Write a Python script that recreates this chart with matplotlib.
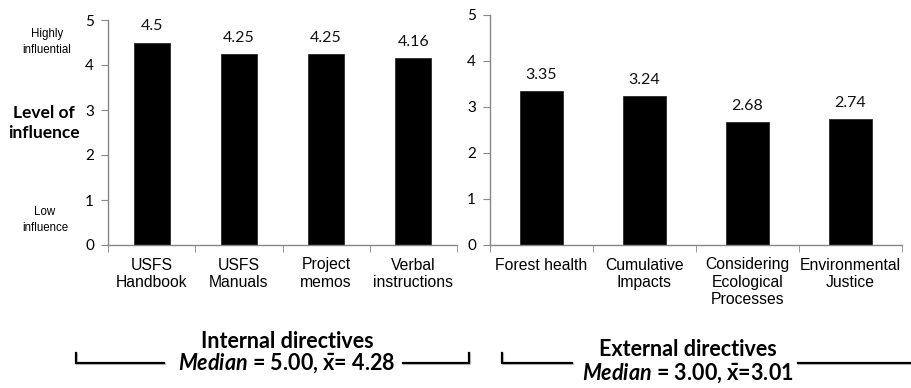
import matplotlib
matplotlib.use("Agg")
import matplotlib.pyplot as plt
from matplotlib.lines import Line2D
import matplotlib.patheffects as pe

plt.rcParams["mathtext.fontset"] = "custom"
plt.rcParams["mathtext.rm"] = "Lato:weight=bold"
plt.rcParams["mathtext.it"] = "Lato:weight=bold:style=italic"
plt.rcParams["mathtext.bf"] = "Lato:weight=bold"

# Data
internal_labels = ["USFS\nHandbook", "USFS\nManuals", "Project\nmemos", "Verbal\ninstructions"]
internal_values = [4.5, 4.25, 4.25, 4.16]
external_labels = ["Forest health", "Cumulative\nImpacts", "Considering\nEcological\nProcesses",
                   "Environmental\nJustice"]
external_values = [3.35, 3.24, 2.68, 2.74]
group_titles = ["Internal directives", "External directives"]
group_medians = [5.00, 3.00]
group_means = [4.28, 3.01]
y_ticks = [0, 1, 2, 3, 4, 5]

W, H = 911, 388
fig = plt.figure(figsize=(W / 100, H / 100), dpi=100)


def fx(x):
    return x / W


def fy(y):
    return 1 - y / H


SPINE = "#878787"


def bar_panel(rect, labels, values):
    ax = fig.add_axes(rect)
    xs = range(len(values))
    ax.bar(xs, values, width=0.41, color="black", edgecolor="#2a2a2a", linewidth=0.6)
    for x, v in zip(xs, values):
        ax.text(x, v + 0.2, f"{v:g}", ha="center", va="bottom",
                family="Lato", fontsize=11.5, color="#111111")
    ax.set_xlim(-0.5, len(values) - 0.5)
    ax.set_ylim(0, 5)
    ax.set_yticks(y_ticks)
    ax.set_xticks(list(xs))
    ax.set_xticklabels(labels, family="Liberation Sans", fontsize=11.3, linespacing=1.2)
    ax.set_xticks([i - 0.5 for i in range(len(values) + 1)], minor=True)
    ax.tick_params(axis="x", which="major", length=0, pad=9)
    ax.tick_params(axis="x", which="minor", length=5, direction="out", color=SPINE)
    ax.tick_params(axis="y", length=5, direction="out", color=SPINE, pad=5)
    for t in ax.get_yticklabels():
        t.set_family("Lato")
        t.set_fontsize(11)
    for s in ("top", "right"):
        ax.spines[s].set_visible(False)
    for s in ("left", "bottom"):
        ax.spines[s].set_color(SPINE)
        ax.spines[s].set_linewidth(1.0)
    return ax


ax1 = bar_panel([fx(108), fy(245), fx(457) - fx(108), (245 - 20) / H],
                internal_labels, internal_values)
ax2 = bar_panel([fx(490), fy(245), fx(902) - fx(490), (245 - 15) / H],
                external_labels, external_values)

# Y-axis descriptors for the left panel
fig.text(fx(47), fy(42), "Highly\ninfluential", ha="center", va="center",
         family="Liberation Sans", fontsize=8.3, linespacing=1.45)
fig.text(fx(44), fy(123), "Level of\ninfluence", ha="center", va="center",
         family="Lato", fontweight="bold", fontsize=12.5, linespacing=1.3)
fig.text(fx(45), fy(220), "Low\ninfluence", ha="center", va="center",
         family="Liberation Sans", fontsize=8.3, linespacing=1.45)

# Group brackets and summaries
shadow = [pe.SimpleLineShadow(offset=(0.8, -1.0), shadow_color="#888888", alpha=0.45),
          pe.Normal()]


def bracket_line(xs, ys):
    ln = Line2D([fx(x) for x in xs], [fy(y) for y in ys], transform=fig.transFigure,
                color="black", linewidth=1.6, solid_joinstyle="miter",
                path_effects=shadow)
    fig.add_artist(ln)


def summary(i, cx, ty, my):
    fig.text(fx(cx), fy(ty), group_titles[i], ha="center", va="center",
             family="Lato", fontweight="bold", fontsize=15.5)
    s = (r"$\it{Median}$" + f" = {group_medians[i]:.2f}, " + r"$\bar{\mathrm{x}}$"
         + ("= " if i == 0 else "=") + f"{group_means[i]:.2f}")
    fig.text(fx(cx), fy(my), s, ha="center", va="center",
             family="Lato", fontweight="bold", fontsize=15.5)


bracket_line([76, 76, 164], [353, 363, 363])
bracket_line([403, 469, 469], [363, 363, 353])
summary(0, 287, 342, 363)

bracket_line([502, 502, 572], [353, 363, 363])
bracket_line([798, 911], [363, 363])
summary(1, 688, 349, 373)

fig.savefig("out.png", dpi=100, facecolor="white")
